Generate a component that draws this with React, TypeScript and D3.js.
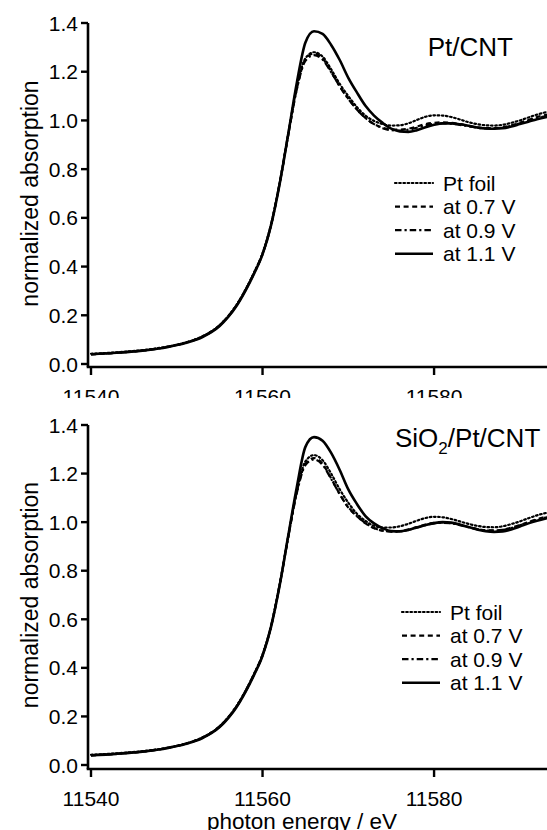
import React from "react";
import * as d3 from "d3";

// ---------- data ----------
const energy = [11540, 11543, 11546, 11549, 11551, 11553, 11555, 11556, 11557, 11558, 11559, 11560, 11561, 11562, 11563, 11564, 11565, 11566, 11567, 11568, 11569, 11570, 11571, 11572, 11573, 11574, 11575, 11576, 11577, 11578, 11579, 11580, 11581, 11582, 11583, 11584, 11585, 11586, 11587, 11588, 11589, 11590, 11591, 11592, 11593.3];

// top panel: Pt/CNT
const topPtFoil = [0.042, 0.048, 0.057, 0.072, 0.088, 0.114, 0.160, 0.197, 0.245, 0.305, 0.375, 0.455, 0.575, 0.745, 0.945, 1.140, 1.255, 1.280, 1.262, 1.210, 1.150, 1.100, 1.055, 1.020, 0.998, 0.985, 0.979, 0.980, 0.988, 1.002, 1.015, 1.021, 1.020, 1.014, 1.004, 0.993, 0.985, 0.980, 0.979, 0.982, 0.990, 1.000, 1.012, 1.024, 1.036];
const top07 = [0.039, 0.046, 0.055, 0.071, 0.087, 0.113, 0.159, 0.196, 0.243, 0.303, 0.373, 0.452, 0.572, 0.742, 0.942, 1.130, 1.250, 1.275, 1.255, 1.200, 1.140, 1.090, 1.045, 1.010, 0.985, 0.970, 0.962, 0.962, 0.966, 0.975, 0.985, 0.990, 0.992, 0.990, 0.985, 0.978, 0.972, 0.968, 0.968, 0.972, 0.980, 0.990, 1.002, 1.014, 1.025];
const top09 = [0.040, 0.046, 0.055, 0.071, 0.087, 0.112, 0.158, 0.195, 0.242, 0.302, 0.372, 0.451, 0.571, 0.741, 0.940, 1.128, 1.245, 1.268, 1.250, 1.198, 1.140, 1.088, 1.045, 1.010, 0.985, 0.968, 0.960, 0.958, 0.962, 0.970, 0.980, 0.986, 0.988, 0.986, 0.982, 0.976, 0.970, 0.967, 0.967, 0.970, 0.978, 0.988, 1.000, 1.010, 1.020];
const top11 = [0.040, 0.046, 0.055, 0.070, 0.086, 0.111, 0.156, 0.193, 0.240, 0.300, 0.370, 0.450, 0.570, 0.740, 0.945, 1.155, 1.320, 1.366, 1.355, 1.310, 1.248, 1.175, 1.115, 1.060, 1.020, 0.990, 0.966, 0.955, 0.953, 0.960, 0.972, 0.982, 0.988, 0.988, 0.984, 0.978, 0.971, 0.967, 0.966, 0.968, 0.975, 0.985, 0.995, 1.005, 1.015];

// bottom panel: SiO2/Pt/CNT
const botPtFoil = [0.042, 0.048, 0.057, 0.072, 0.088, 0.114, 0.160, 0.197, 0.245, 0.305, 0.375, 0.455, 0.575, 0.745, 0.942, 1.130, 1.250, 1.276, 1.255, 1.200, 1.135, 1.080, 1.035, 1.005, 0.985, 0.978, 0.978, 0.983, 0.993, 1.006, 1.017, 1.022, 1.020, 1.013, 1.003, 0.993, 0.985, 0.980, 0.979, 0.983, 0.992, 1.003, 1.016, 1.028, 1.040];
const bot07 = [0.039, 0.046, 0.055, 0.071, 0.087, 0.113, 0.159, 0.196, 0.243, 0.303, 0.373, 0.452, 0.572, 0.742, 0.940, 1.125, 1.240, 1.264, 1.240, 1.180, 1.115, 1.060, 1.025, 0.995, 0.975, 0.965, 0.962, 0.963, 0.970, 0.980, 0.990, 0.997, 0.999, 0.996, 0.989, 0.980, 0.972, 0.967, 0.966, 0.969, 0.977, 0.988, 1.000, 1.012, 1.024];
const bot09 = [0.040, 0.046, 0.055, 0.071, 0.087, 0.112, 0.158, 0.195, 0.242, 0.302, 0.372, 0.451, 0.571, 0.741, 0.938, 1.120, 1.235, 1.258, 1.236, 1.178, 1.115, 1.062, 1.025, 0.996, 0.976, 0.965, 0.961, 0.962, 0.968, 0.978, 0.988, 0.995, 0.997, 0.995, 0.988, 0.979, 0.971, 0.966, 0.965, 0.968, 0.976, 0.987, 0.999, 1.010, 1.021];
const bot11 = [0.040, 0.046, 0.055, 0.070, 0.086, 0.111, 0.156, 0.193, 0.240, 0.300, 0.370, 0.450, 0.570, 0.740, 0.945, 1.145, 1.310, 1.350, 1.335, 1.285, 1.215, 1.135, 1.075, 1.025, 0.995, 0.975, 0.963, 0.962, 0.968, 0.978, 0.988, 0.996, 1.000, 0.998, 0.990, 0.980, 0.970, 0.963, 0.960, 0.962, 0.970, 0.982, 0.995, 1.006, 1.018];

const seriesLabels = ["Pt foil", "at 0.7 V", "at 0.9 V", "at 1.1 V"];
const xTicks = [11540, 11560, 11580];
const yTicks = [0.0, 0.2, 0.4, 0.6, 0.8, 1.0, 1.2, 1.4];

const styles = [
  { dash: "1.6,2.6", width: 2.2, cap: "round" },
  { dash: "5,3.6", width: 2.2, cap: "butt" },
  { dash: "6.5,3,2.2,3", width: 2.2, cap: "butt" },
  { dash: "", width: 2.6, cap: "butt" },
];

const FONT = "'Liberation Sans', Arial, Helvetica, sans-serif";

type PanelProps = {
  data: number[][];
  yZero: number;
  yTop: number;
  axisY: number;
  legendX: number;
  legendY: number;
  title: React.ReactNode;
  clipBottom?: number;
  id: string;
};

const x = d3.scaleLinear().domain([11540, 11593.4]).range([91, 549]);
const AXIS_X = 88;

function Panel({ data, yZero, yTop, axisY, legendX, legendY, title, clipBottom, id }: PanelProps) {
  const y = d3.scaleLinear().domain([0, 1.4]).range([yZero, yTop]);
  const line = d3
    .line<number>()
    .x((_, i) => x(energy[i]))
    .y((v) => y(v))
    .curve(d3.curveMonotoneX);
  return (
    <g clipPath={clipBottom ? `url(#${id})` : undefined}>
      {clipBottom ? (
        <defs>
          <clipPath id={id}>
            <rect x={0} y={0} width={547} height={clipBottom} />
          </clipPath>
        </defs>
      ) : null}
      {data.map((d, i) => (
        <path
          key={i}
          d={line(d) || ""}
          fill="none"
          stroke="#000"
          strokeWidth={styles[i].width}
          strokeDasharray={styles[i].dash}
          strokeLinecap={styles[i].cap as any}
          strokeLinejoin="round"
        />
      ))}
      {/* axes */}
      <line x1={AXIS_X} x2={AXIS_X} y1={y(1.4)} y2={axisY} stroke="#000" strokeWidth={2.6} />
      <line x1={AXIS_X - 1.3} x2={547} y1={axisY} y2={axisY} stroke="#000" strokeWidth={2.6} />
      {yTicks.map((t) => (
        <g key={t}>
          <line x1={AXIS_X - 7} x2={AXIS_X} y1={y(t)} y2={y(t)} stroke="#000" strokeWidth={2.4} />
          <text x={AXIS_X - 10} y={y(t) + 7.5} textAnchor="end" fontSize={21} fontFamily={FONT}>
            {d3.format(".1f")(t)}
          </text>
        </g>
      ))}
      {xTicks.map((t) => (
        <g key={t}>
          <line x1={x(t)} x2={x(t)} y1={axisY} y2={axisY + 8} stroke="#000" strokeWidth={2.4} />
          <text x={x(t)} y={axisY + 37} textAnchor="middle" fontSize={21} fontFamily={FONT}>
            {t}
          </text>
        </g>
      ))}
      <text
        transform={`translate(38,${(y(0) + y(1.4)) / 2}) rotate(-90)`}
        textAnchor="middle"
        fontSize={23}
        fontFamily={FONT}
      >
        normalized absorption
      </text>
      {title}
      {/* legend */}
      {seriesLabels.map((lab, i) => (
        <g key={lab}>
          <line
            x1={legendX}
            x2={legendX + 38}
            y1={legendY + i * 23.6}
            y2={legendY + i * 23.6}
            stroke="#000"
            strokeWidth={styles[i].width}
            strokeDasharray={styles[i].dash}
            strokeLinecap={styles[i].cap as any}
          />
          <text x={legendX + 48} y={legendY + i * 23.6 + 7.5} fontSize={21} fontFamily={FONT}>
            {lab}
          </text>
        </g>
      ))}
    </g>
  );
}

export default function App() {
  return (
    <svg
      width={547}
      height={830}
      style={{ position: "absolute", left: 0, top: 0, background: "#fff" }}
    >
      <rect width={547} height={830} fill="#fff" />
      <Panel
        id="clipTop"
        data={[topPtFoil, top07, top09, top11]}
        yZero={364}
        yTop={23}
        axisY={367}
        legendX={395}
        legendY={183}
        clipBottom={398}
        title={
          <text x={513} y={56} textAnchor="end" fontSize={26} fontFamily={FONT}>
            Pt/CNT
          </text>
        }
      />
      <Panel
        id="clipBot"
        data={[botPtFoil, bot07, bot09, bot11]}
        yZero={765}
        yTop={425}
        axisY={769}
        legendX={402}
        legendY={612}
        title={
          <text x={395} y={447} fontSize={26} fontFamily={FONT}>
            SiO
            <tspan fontSize={17} dy={7}>
              2
            </tspan>
            <tspan dy={-7}>/Pt/CNT</tspan>
          </text>
        }
      />
      <text x={302} y={829} textAnchor="middle" fontSize={22.5} fontFamily={FONT}>
        photon energy / eV
      </text>
    </svg>
  );
}
